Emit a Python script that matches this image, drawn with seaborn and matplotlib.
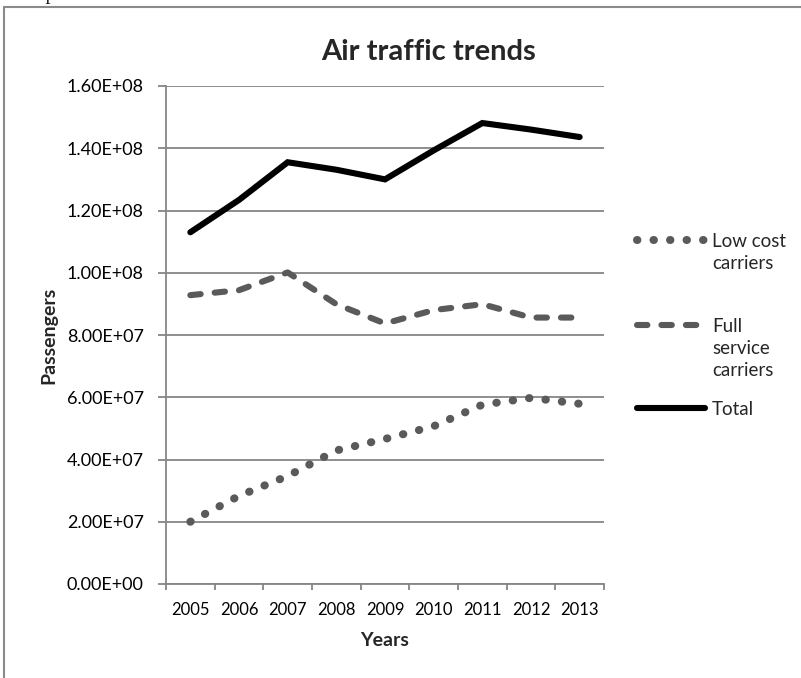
import numpy as np
import pandas as pd
import seaborn as sns
import matplotlib
matplotlib.use("Agg")
import matplotlib.pyplot as plt
from matplotlib.lines import Line2D
from matplotlib.ticker import FuncFormatter

years = ["2005", "2006", "2007", "2008", "2009", "2010", "2011", "2012", "2013"]
low_cost = [2.00e7, 2.83e7, 3.47e7, 4.29e7, 4.66e7, 5.07e7, 5.76e7, 5.98e7, 5.79e7]
full_service = [9.28e7, 9.44e7, 1.001e8, 8.99e7, 8.37e7, 8.80e7, 8.99e7, 8.56e7, 8.56e7]
total = [1.130e8, 1.234e8, 1.355e8, 1.331e8, 1.300e8, 1.393e8, 1.481e8, 1.460e8, 1.436e8]
series_labels = ["Low cost\ncarriers", "Full\nservice\ncarriers", "Total"]
y_ticks = [0, 2e7, 4e7, 6e7, 8e7, 1e8, 1.2e8, 1.4e8, 1.6e8]

sns.set_theme(style="white")
plt.rcParams["font.family"] = ["Lato", "DejaVu Sans"]

W, H = 801, 678
fig = plt.figure(figsize=(W / 100, H / 100), dpi=100)
ax = fig.add_axes([166 / W, 1 - 584 / H, (604 - 166) / W, (584 - 86) / H])

df = pd.DataFrame({"idx": np.arange(len(years)), "low": low_cost,
                   "full": full_service, "total": total})

grey = "#5a5a5a"
lw_dot = 5.8
lw_dash = 4.4
lw_tot = 4.4
dot_style = (0, (0.05, 2.0))
dash_style = (0, (1.7, 2.3))

sns.lineplot(data=df, x="idx", y="low", ax=ax, color=grey, lw=lw_dot,
             linestyle=dot_style, dash_capstyle="round")
sns.lineplot(data=df, x="idx", y="full", ax=ax, color=grey, lw=lw_dash,
             linestyle=dash_style, dash_capstyle="round")
sns.lineplot(data=df, x="idx", y="total", ax=ax, color="black", lw=lw_tot,
             solid_capstyle="round", solid_joinstyle="miter")

ax.set_xlim(-0.5, len(years) - 0.5)
ax.set_ylim(0, 1.6e8)
ax.set_yticks(y_ticks)
ax.yaxis.set_major_formatter(FuncFormatter(lambda v, p: f"{v:.2E}"))
ax.set_xticks(np.arange(len(years)))
ax.set_xticklabels(years)
ax.set_xticks(np.arange(len(years) + 1) - 0.5, minor=True)

gcol = "#868686"
ax.grid(axis="y", color=gcol, lw=1.3)
ax.set_axisbelow(True)
for s in ["top", "right"]:
    ax.spines[s].set_visible(False)
for s in ["left", "bottom"]:
    ax.spines[s].set_color(gcol)
    ax.spines[s].set_linewidth(1.3)

ax.tick_params(axis="y", which="major", left=True, length=6, width=1.3,
               color=gcol, pad=10, labelsize=13, labelcolor="black")
ax.tick_params(axis="x", which="major", bottom=False, length=0, pad=13,
               labelsize=12, labelcolor="black")
ax.tick_params(axis="x", which="minor", bottom=True, length=4.5, width=1.3,
               color=gcol)

ax.set_xlabel("Years", fontsize=14, fontweight="bold", labelpad=10)
ax.set_ylabel("Passengers", fontsize=14, fontweight="bold", labelpad=7)

fig.text(429 / W, 1 - 52 / H, "Air traffic trends", fontsize=21,
         fontweight="bold", ha="center", va="center")

# legend (manual, in figure coordinates)
tx = 712 / W
entries = [
    (240, 704, dict(color=grey, lw=lw_dot, linestyle=dot_style, dash_capstyle="round")),
    (325, 702, dict(color=grey, lw=lw_dash, linestyle=dash_style, dash_capstyle="round")),
    (408, 705, dict(color="black", lw=lw_tot, solid_capstyle="round")),
]
for (yy, xe, style), lab in zip(entries, series_labels):
    fy = 1 - yy / H
    fig.add_artist(Line2D([637 / W, xe / W], [fy, fy], transform=fig.transFigure, **style))
    fig.text(tx, 1 - (yy - 7) / H, lab, fontsize=13.5, ha="left", va="top",
             linespacing=1.35)

# surrounding frame and clipped caption above
bcol = "#8a8a8a"
fig.add_artist(Line2D([4 / W, 4 / W], [0, 1 - 7 / H], transform=fig.transFigure,
                      color=bcol, lw=1.5))
fig.add_artist(Line2D([4 / W, 1], [1 - 7 / H, 1 - 7 / H], transform=fig.transFigure,
                      color=bcol, lw=1.5))
fig.text(14 / W, 1 + 0.5 / H, "Graph 4: Air traffic trends between LCCs and FSCs",
         family=["Liberation Serif"], fontsize=15, ha="left", va="baseline")

fig.savefig("out.png", dpi=100)
